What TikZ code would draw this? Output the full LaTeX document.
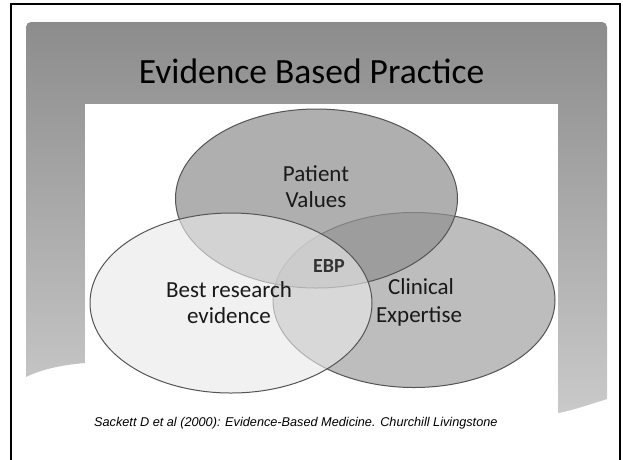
\documentclass[tikz,border=0pt]{standalone}
\usepackage{fontspec}
\usetikzlibrary{shapes.geometric}
\newfontfamily\slidefont{Carlito}
\newfontfamily\citefont{Liberation Sans}
\definecolor{slidetop}{gray}{0.55}
\definecolor{slidebot}{gray}{0.79}
\definecolor{rimgray}{gray}{0.33}
\definecolor{blobgray}{gray}{0.567}
\definecolor{lightblob}{gray}{0.918}

\begin{document}
\begin{tikzpicture}[x=1pt,y=-1pt]

      \useasboundingbox (0,0) rectangle (623,459);
      \draw[line width=2.2pt] (11,4) rectangle (620,475);

      \begin{scope}
        \clip[rounded corners=5pt] (26,22) rectangle (607,470);
        \shade[top color=slidetop,bottom color=slidebot] (26,22) -- (607,22) -- (607,399)
          .. controls (585,406) and (570,411) .. (558,413) -- (85,363)
          .. controls (60,365) and (40,370) .. (26,377) -- cycle;
      \end{scope}
      \fill[white] (85,104) rectangle (558,420);

      \begin{scope}[every node/.style={ellipse,draw=rimgray,line width=1pt,minimum width=282pt,inner sep=0pt}]
        \node[fill=blobgray,fill opacity=0.6,minimum height=175pt] (ce) at (414,300) {};
        \node[fill=blobgray,fill opacity=0.72,minimum height=179pt] (pv) at (316.5,198.5) {};
        \node[fill=lightblob,fill opacity=0.62,minimum height=180pt] (bre) at (231,303) {};
      \end{scope}

      \node[font=\slidefont\fontsize{35.5}{40}\selectfont,anchor=base] (title) at (311.5,83) {Evidence Based Practice};

      \begin{scope}[every node/.style={font=\slidefont\fontsize{23}{27}\selectfont,text=black!90,anchor=base}]
        \node (pv1) at (316,181) {Patient};
        \node (pv2) at (316,207) {Values};
        \node (bre1) at (229,297) {Best research};
        \node (bre2) at (229,323) {evidence};
        \node (ce1) at (421,294) {Clinical};
        \node (ce2) at (419,322) {Expertise};
      \end{scope}

      \node[font=\slidefont\bfseries\fontsize{20}{24}\selectfont,text=black!80,anchor=base] (ebp) at (329,272) {EBP};
      \node[font=\citefont\itshape\fontsize{12.7}{15}\selectfont,anchor=base west,inner sep=0pt] (cite) at (94,426)
        {Sackett D et al (2000): Evidence-Based Medicine. Churchill Livingstone};

    \end{tikzpicture}
\end{document}
